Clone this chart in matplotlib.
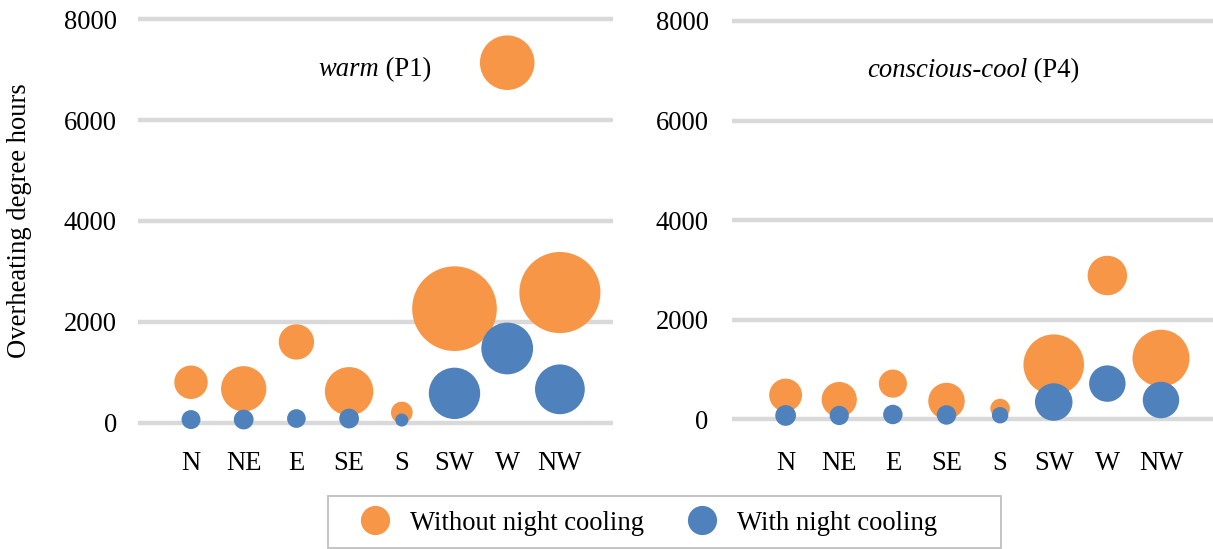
import matplotlib.pyplot as plt
from matplotlib.lines import Line2D
from matplotlib.patches import Rectangle

plt.rcParams['font.family'] = ['Liberation Serif', 'DejaVu Serif']

# --- data ---
orientasi = ["N", "NE", "E", "SE", "S", "SW", "W", "NW"]

# warm (P1)
p1_tanpa = [800, 670, 1600, 620, 200, 2260, 7140, 2580]
p1_dengan = [60, 60, 80, 80, 50, 580, 1470, 660]
p1_tanpa_size = [112, 205, 125, 235, 47, 717, 298, 658]
p1_dengan_size = [36, 39, 35, 39, 17, 264, 268, 248]

# conscious-cool (P4)
p4_tanpa = [490, 400, 720, 370, 220, 1100, 2890, 1230]
p4_dengan = [80, 80, 100, 90, 85, 350, 720, 390]
p4_tanpa_size = [108, 124, 79, 133, 38, 367, 156, 325]
p4_dengan_size = [43, 37, 38, 38, 27, 141, 133, 133]

ORANGE = '#F79646'
BLUE = '#4F81BD'
GRID = '#D9D9D9'
FS = 19.2
SKALA = 5.18  # size -> points^2

fig = plt.figure(figsize=(12.13, 5.49), dpi=100)
W, H = 1213, 549


def px_axes(x0, x1, ytop, ybot):
    return fig.add_axes([x0 / W, 1 - ybot / H, (x1 - x0) / W, (ybot - ytop) / H])


ax1 = px_axes(138.3, 612.6, 14.3, 437.7)
ax2 = px_axes(732.0, 1214.6, 16.0, 434.4)

panel = [
    (ax1, p1_tanpa, p1_dengan, p1_tanpa_size, p1_dengan_size, 'warm', ' (P1)', 0.508, 9.8, 15.5),
    (ax2, p4_tanpa, p4_dengan, p4_tanpa_size, p4_dengan_size, 'conscious-cool', ' (P4)', 0.612, 12.0, 16.8),
]

x = list(range(1, len(orientasi) + 1))
for ax, tanpa, dengan, s_tanpa, s_dengan, judul_it, judul, xj, padx, pady in panel:
    ax.scatter(x, tanpa, s=[v * SKALA for v in s_tanpa], color=ORANGE, linewidths=0, zorder=3)
    ax.scatter(x, dengan, s=[v * SKALA for v in s_dengan], color=BLUE, linewidths=0, zorder=4)
    ax.set_xlim(0, 9)
    ax.set_ylim(-300, 8100)
    ax.set_yticks([0, 2000, 4000, 6000, 8000])
    ax.set_xticks(x)
    ax.set_xticklabels(orientasi)
    ax.tick_params(axis='both', length=0, labelsize=FS, colors='black')
    ax.tick_params(axis='x', pad=padx)
    ax.tick_params(axis='y', pad=pady)
    ax.grid(axis='y', color=GRID, linewidth=3.2, zorder=0)
    ax.set_axisbelow(True)
    for sp in ax.spines.values():
        sp.set_visible(False)
    ax.patch.set_alpha(0)
    ax.text(xj, 7000, judul_it, style='italic', fontsize=FS, ha='right', va='center',
            transform=ax.get_yaxis_transform())
    ax.text(xj, 7000, judul, fontsize=FS, ha='left', va='center',
            transform=ax.get_yaxis_transform())

fig.text(19.8 / W, 1 - 220.6 / H, "Overheating degree hours", rotation=90,
         ha='center', va='center', fontsize=FS)

# kotak legenda
fig.patches.append(Rectangle((328.3 / W, 1 - 547.7 / H), (1001 - 328.3) / W, (547.7 - 495.7) / H,
                             transform=fig.transFigure, fill=False, edgecolor='#BFBFBF',
                             linewidth=1.3))
handles = [
    Line2D([], [], marker='o', linestyle='', markersize=21, color=ORANGE, markeredgewidth=0),
    Line2D([], [], marker='o', linestyle='', markersize=21, color=BLUE, markeredgewidth=0),
]
fig.legend(handles, ["Without night cooling", "With night cooling"], ncol=2, frameon=False,
           loc='center left', bbox_to_anchor=(359.0 / W, 1 - 523.3 / H), borderpad=0,
           borderaxespad=0, handlelength=1.2, handletextpad=0.7, columnspacing=1.6,
           fontsize=FS)

fig.savefig('out.png', dpi=100)
